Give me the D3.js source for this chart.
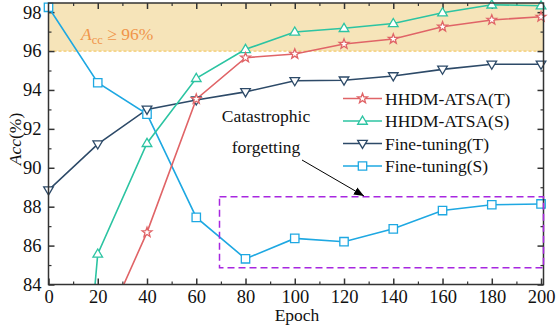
<!DOCTYPE html>
<html><head><meta charset="utf-8">
<script src="https://cdn.jsdelivr.net/npm/d3@7"></script>
<style>body{margin:0;background:#fff}svg{display:block}</style>
</head><body><svg id="c" width="556" height="331" font-family="'Liberation Serif', 'Times New Roman', Times, serif"></svg>
<script>
const epochs = [0,20,40,60,80,100,120,140,160,180,200];
const hhdmT = [76.0,81.0,86.68,93.53,95.66,95.85,96.36,96.62,97.25,97.6,97.76];
const hhdmS = [57.0,85.57,91.26,94.6,96.09,96.98,97.17,97.42,97.97,98.38,98.33];
const ftT = [88.85,91.22,93.0,93.48,93.9,94.47,94.5,94.72,95.06,95.32,95.32];
const ftS = [98.25,94.37,92.76,87.45,85.32,86.37,86.2,86.86,87.8,88.1,88.14];
const seriesNames = ["HHDM-ATSA(T)","HHDM-ATSA(S)","Fine-tuning(T)","Fine-tuning(S)"];
const seriesColors = ["#e06467","#2cc4a2","#2d4a68","#1ea8e2"];
const seriesMarkers = ["star","triUp","triDown","square"];
const xTicks = [0,20,40,60,80,100,120,140,160,180,200];
const yTicks = [84,86,88,90,92,94,96,98];

const FF = "'Liberation Serif', 'Times New Roman', Times, serif";
const FS = 17.5, FT = 18.5;
const svg = d3.select("#c");
const L=48.5, R=543.5, T=3, B=284.5;
const x = d3.scaleLinear().domain([0,201]).range([L,R]);
const y = d3.scaleLinear().domain([84,98.47]).range([B,T]);

svg.append("defs").append("clipPath").attr("id","clip")
  .append("rect").attr("x",L).attr("y",T).attr("width",R-L).attr("height",B-T);
svg.select("defs").append("marker").attr("id","arr").attr("viewBox","0 0 10 10")
  .attr("refX",10).attr("refY",5).attr("markerWidth",10).attr("markerHeight",10)
  .attr("markerUnits","userSpaceOnUse").attr("orient","auto")
  .append("path").attr("d","M0,1 L10,5 L0,9 Z").attr("fill","#000");

// shaded region
svg.append("rect").attr("x",L).attr("y",T).attr("width",R-L).attr("height",y(96)-T)
  .attr("fill","#f6e4b9");
svg.append("line").attr("x1",L).attr("x2",R).attr("y1",y(96)).attr("y2",y(96))
  .attr("stroke","#f3c96a").attr("stroke-width",1.2).attr("stroke-dasharray","3,2");
const at = svg.append("text").attr("x",81).attr("y",40).attr("fill","#f0954a").attr("font-size",FS).attr("font-family",FF);
at.append("tspan").attr("font-style","italic").text("A");
at.append("tspan").attr("font-size",12.5).attr("dy",4).text("cc");
at.append("tspan").attr("dy",-4).text(" ≥ 96%");

// axes
const g = svg.append("g");
const xMinor = d3.range(10,201,20), yMinor = d3.range(85,98,2);
function styleAx(a, w){ a.attr("font-family",FF).attr("font-size",FT); a.select(".domain").remove(); a.selectAll("text").attr("fill","#111"); a.selectAll("line").attr("stroke","#333").attr("stroke-width",w); }
g.append("g").attr("transform",`translate(0,${B})`)
  .call(d3.axisBottom(x).tickValues(xTicks).tickSize(-6).tickPadding(5).tickFormat(d3.format("d")))
  .call(a=>styleAx(a,1.5));
g.append("g").attr("transform",`translate(0,${B})`)
  .call(d3.axisBottom(x).tickValues(xMinor).tickSize(-3).tickFormat(""))
  .call(a=>styleAx(a,1.2));
g.append("g").attr("transform",`translate(0,${T})`)
  .call(d3.axisTop(x).tickValues(xTicks).tickSize(-6).tickFormat(""))
  .call(a=>styleAx(a,1.5));
g.append("g").attr("transform",`translate(0,${T})`)
  .call(d3.axisTop(x).tickValues(xMinor).tickSize(-3).tickFormat(""))
  .call(a=>styleAx(a,1.2));
g.append("g").attr("transform",`translate(${L},0)`)
  .call(d3.axisLeft(y).tickValues(yTicks).tickSize(-6).tickPadding(7).tickFormat(d3.format("d")))
  .call(a=>styleAx(a,1.5));
g.append("g").attr("transform",`translate(${L},0)`)
  .call(d3.axisLeft(y).tickValues(yMinor).tickSize(-3).tickFormat(""))
  .call(a=>styleAx(a,1.2));
g.append("g").attr("transform",`translate(${R},0)`)
  .call(d3.axisRight(y).tickValues(yTicks).tickSize(-6).tickFormat(""))
  .call(a=>styleAx(a,1.5));
g.append("g").attr("transform",`translate(${R},0)`)
  .call(d3.axisRight(y).tickValues(yMinor).tickSize(-3).tickFormat(""))
  .call(a=>styleAx(a,1.2));

// markers
function markerPath(type){
  if(type==="square"){const s=4.2; return `M${-s},${-s}H${s}V${s}H${-s}Z`;}
  if(type==="triUp"){const s=4.3; return `M0,${-s*1.15}L${s*1.12},${s*0.75}L${-s*1.12},${s*0.75}Z`;}
  if(type==="triDown"){const s=4.3; return `M0,${s*1.15}L${s*1.12},${-s*0.75}L${-s*1.12},${-s*0.75}Z`;}
  if(type==="star"){ const s=4.3; let p=[]; for(let i=0;i<10;i++){const r=i%2?s*0.5:s*1.2;const a=-Math.PI/2+i*Math.PI/5;p.push([r*Math.cos(a),r*Math.sin(a)]);} return "M"+p.map(q=>q.join(",")).join("L")+"Z"; }
}
const allData=[hhdmT,hhdmS,ftT,ftS];
const line = d3.line().x((d,i)=>x(epochs[i])).y(d=>y(d));
[3,2,1,0].forEach(k=>{
  const gg = svg.append("g").attr("clip-path","url(#clip)");
  gg.append("path").attr("d",line(allData[k])).attr("fill","none").attr("stroke",seriesColors[k]).attr("stroke-width",1.6);
});
[3,2,1,0].forEach(k=>{
  const gg = svg.append("g");
  allData[k].forEach((v,i)=>{
    if(v<84) return;
    gg.append("path").attr("transform",`translate(${x(epochs[i])},${y(v)})`)
      .attr("d",markerPath(seriesMarkers[k])).attr("fill","#fff").attr("stroke",seriesColors[k]).attr("stroke-width",1.3);
  });
});

// frame
svg.append("rect").attr("x",L).attr("y",T).attr("width",R-L).attr("height",B-T)
  .attr("fill","none").attr("stroke","#333").attr("stroke-width",1.5);

// purple dashed box
svg.append("rect").attr("x",219.5).attr("y",196.7).attr("width",543.5-219.5).attr("height",267.7-196.7)
  .attr("fill","none").attr("stroke","#a727e0").attr("stroke-width",1.5).attr("stroke-dasharray","7,4");

// annotation
svg.append("text").attr("x",266).attr("y",122).attr("text-anchor","middle").attr("font-size",FS).attr("font-family",FF).attr("fill","#111").text("Catastrophic");
svg.append("text").attr("x",266).attr("y",153).attr("text-anchor","middle").attr("font-size",FS).attr("font-family",FF).attr("fill","#111").text("forgetting");
svg.append("line").attr("x1",302).attr("y1",160).attr("x2",364).attr("y2",196)
  .attr("stroke","#000").attr("stroke-width",1).attr("marker-end","url(#arr)");

// legend
const rowsY=[98.5,121,143.5,166];
seriesNames.forEach((n,k)=>{
  const lg = svg.append("g");
  lg.append("line").attr("x1",343).attr("x2",382).attr("y1",rowsY[k]).attr("y2",rowsY[k]).attr("stroke",seriesColors[k]).attr("stroke-width",1.6);
  lg.append("path").attr("transform",`translate(362.5,${rowsY[k]})`).attr("d",markerPath(seriesMarkers[k])).attr("fill","#fff").attr("stroke",seriesColors[k]).attr("stroke-width",1.3);
  lg.append("text").attr("x",385).attr("y",rowsY[k]+6).attr("font-size",FS).attr("font-family",FF).attr("fill","#111").text(n);
});

// axis titles
svg.append("text").attr("x",297).attr("y",321).attr("text-anchor","middle").attr("font-size",FS).attr("font-family",FF).attr("fill","#111").text("Epoch");
const yl = svg.append("text").attr("transform",`translate(21,139) rotate(-90)`).attr("text-anchor","middle").attr("font-size",FS).attr("font-family",FF).attr("fill","#111");
yl.append("tspan").attr("font-style","italic").text("Acc");
yl.append("tspan").text("(%)");
</script></body></html>
